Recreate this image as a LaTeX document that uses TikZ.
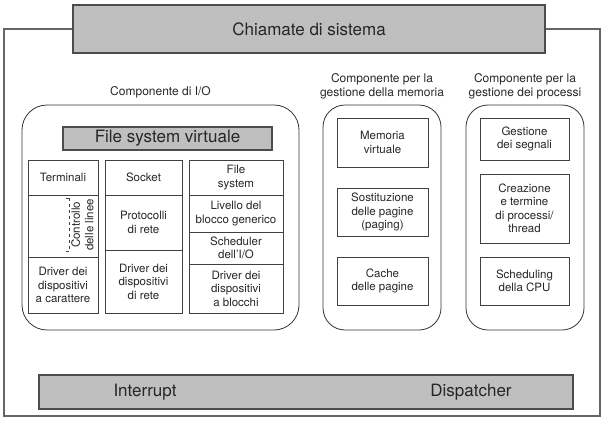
\documentclass[tikz,border=0pt]{standalone}
\usepackage{fontspec}
\setmainfont{TeX Gyre Heros}
\usetikzlibrary{positioning}

\begin{document}
\begin{tikzpicture}[x=1pt, y=-1pt,
    every node/.style={text=black!85, outer sep=0pt, inner sep=1pt},
    grey/.style={draw=black!70, fill=black!25, line width=1.2pt, font=\fontsize{17}{20}\selectfont},
    cell/.style={draw=black!75, line width=0.8pt, align=center, font=\fontsize{11.5}{13.5}\selectfont},
    group/.style={draw=black!80, line width=0.8pt, rounded corners=22pt},
    title/.style={align=center, font=\fontsize{12}{14}\selectfont}]
    \useasboundingbox (0,0) rectangle (613,426);
    \draw[black!60, line width=1.2pt] (4,29) rectangle (600,416);
    \node[grey, minimum width=472pt, minimum height=48pt] (sys) at (309,29) {Chiamate di sistema};

    % componente di I/O
    \node[group, minimum width=277pt, minimum height=225pt, rounded corners=25pt] (io) at (160.5,217.5) {};
    \node[title] (iot) [above=6pt of io] {Componente di I/O};
    \node[grey, minimum width=209pt, minimum height=23pt] (vfs) at (167.5,138.5) {File system virtuale};

    \node[cell, minimum width=70pt, minimum height=35pt] (term) at (63,177.5) {Terminali};
    \node[cell, minimum width=70pt, minimum height=62pt] (ctrl) [below=0pt of term] {};
    \node[cell, minimum width=70pt, minimum height=56pt] (chr) [below=0pt of ctrl] {Driver dei\\dispositivi\\a carattere};
    \draw[black!75, dashed] (69,198) -- (69,251);
    \draw[black!75] (66,198) -- (69,198) (66,251) -- (69,251);
    \node[cell, draw=none, rotate=90] (disc) at (82.5,225) {Controllo\\delle linee};

    \node[cell, minimum width=77pt, minimum height=35pt] (sock) at (143.5,177.5) {Socket};
    \node[cell, minimum width=77pt, minimum height=55pt] (proto) [below=0pt of sock] {Protocolli\\di rete};
    \node[cell, minimum width=77pt, minimum height=63pt] (net) [below=0pt of proto] {Driver dei\\dispositivi\\di rete};

    \node[cell, minimum width=94pt, minimum height=35pt] (fs) at (236,177.5) {File\\system};
    \node[cell, minimum width=94pt, minimum height=37pt] (blk) [below=0pt of fs] {Livello del\\blocco generico};
    \node[cell, minimum width=94pt, minimum height=32pt] (sched) [below=0pt of blk] {Scheduler\\dell'I/O};
    \node[cell, minimum width=94pt, minimum height=49pt] (bdrv) [below=0pt of sched] {Driver dei\\dispositivi\\a blocchi};

    % memoria
    \node[group, minimum width=118pt, minimum height=225pt] (mm) at (382,217.5) {};
    \node[title] (mmt) [above=5pt of mm] {Componente per la\\gestione della memoria};
    \node[cell, minimum width=91pt, minimum height=49pt] (vm) at (382.5,142.5) {Memoria\\virtuale};
    \node[cell, minimum width=91pt, minimum height=48pt] (swap) at (382.5,212) {Sostituzione\\delle pagine\\(paging)};
    \node[cell, minimum width=91pt, minimum height=48pt] (cache) at (382.5,281) {Cache\\delle pagine};

    % processi
    \node[group, minimum width=118pt, minimum height=225pt] (pm) at (525,217.5) {};
    \node[title] (pmt) [above=5pt of pm] {Componente per la\\gestione dei processi};
    \node[cell, minimum width=89pt, minimum height=42pt] (sig) at (524.5,139) {Gestione\\dei segnali};
    \node[cell, minimum width=89pt, minimum height=69pt] (fork) at (524.5,208.5) {Creazione\\e termine\\di processi/\\thread};
    \node[cell, minimum width=89pt, minimum height=48pt] (cpu) at (524.5,281) {Scheduling\\della CPU};

    \node[grey, minimum width=534pt, minimum height=34pt] (bar) at (306,392) {};
    \node[font=\fontsize{17}{20}\selectfont] (irq) at (145,392) {Interrupt};
    \node[font=\fontsize{17}{20}\selectfont] (disp) at (471,392) {Dispatcher};
\end{tikzpicture}
\end{document}
